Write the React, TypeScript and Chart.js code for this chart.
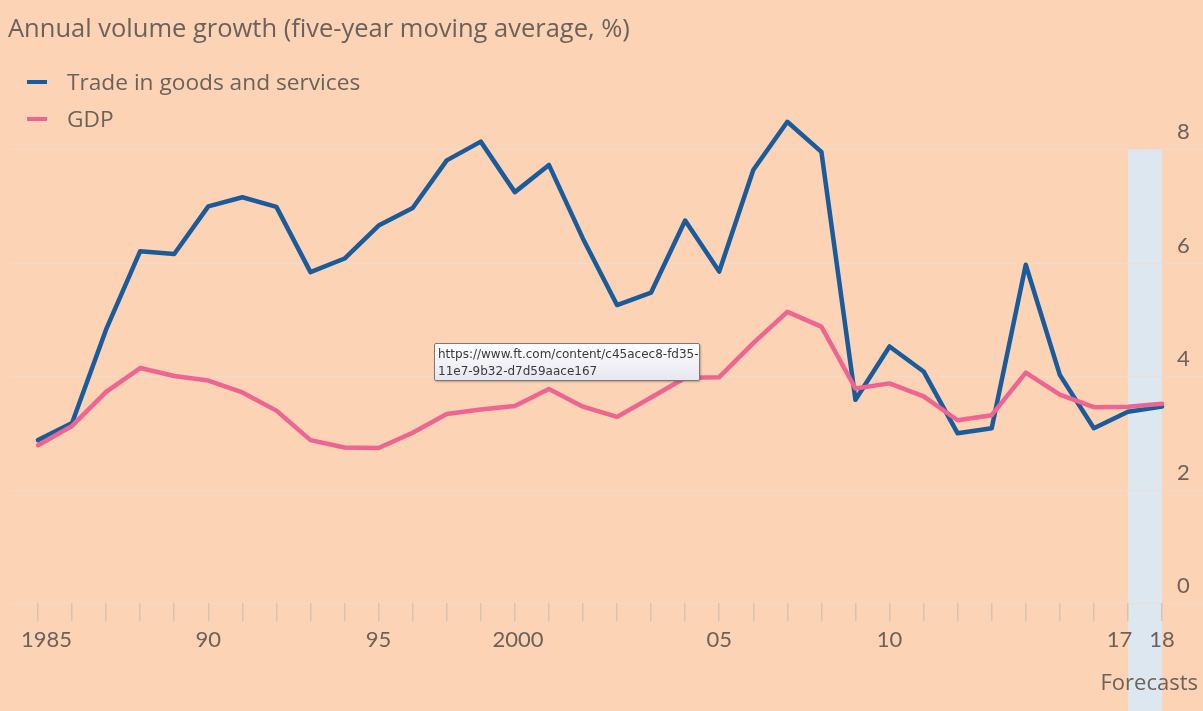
import React, { useEffect, useRef } from "react";
import { Chart, registerables } from "chart.js";

Chart.register(...registerables);

const years = [
  "1985", "1986", "1987", "1988", "1989", "1990", "1991", "1992", "1993", "1994",
  "1995", "1996", "1997", "1998", "1999", "2000", "2001", "2002", "2003", "2004",
  "2005", "2006", "2007", "2008", "2009", "2010", "2011", "2012", "2013", "2014",
  "2015", "2016", "2017", "2018",
];

const xTickLabels = [
  "1985", "", "", "", "", "90", "", "", "", "",
  "95", "", "", "", "", "2000", "", "", "", "",
  "05", "", "", "", "", "10", "", "", "", "",
  "", "", "17", "18",
];

const tradeValues = [
  2.87, 3.17, 4.82, 6.2, 6.15, 6.99, 7.15, 6.98, 5.83, 6.07,
  6.65, 6.96, 7.8, 8.13, 7.24, 7.72, 6.42, 5.25, 5.47, 6.74,
  5.84, 7.63, 8.48, 7.95, 3.58, 4.52, 4.08, 2.99, 3.08, 5.96,
  4.02, 3.08, 3.37, 3.46,
];

const gdpValues = [
  2.78, 3.12, 3.72, 4.14, 4.0, 3.92, 3.71, 3.39, 2.87, 2.74,
  2.73, 3.0, 3.33, 3.41, 3.47, 3.77, 3.46, 3.28, 3.62, 3.97,
  3.98, 4.58, 5.13, 4.87, 3.78, 3.87, 3.64, 3.22, 3.31, 4.06,
  3.67, 3.45, 3.46, 3.51,
];

const yTicks = [0, 2, 4, 6, 8];
const forecastStart = "2017";
const forecastEnd = "2018";

const seriesNames = ["Trade in goods and services", "GDP"];
const titleText = "Annual volume growth (five-year moving average, %)";
const tooltipLines = ["https://www.ft.com/content/c45acec8-fd35-", "11e7-9b32-d7d59aace167"];

const BG = "#fcd3b4";
const BLUE = "#1a5b9c";
const PINK = "#ee6592";
const TEXT = "#6b625c";
const FONT = "'Open Sans', Lato, sans-serif";
const TICK_FONT = "Lato, 'Open Sans', sans-serif";

const decorPlugin = {
  id: "ftDecor",
  beforeDraw(chart: any) {
    const { ctx, scales } = chart;
    const x = scales.x;
    const y = scales.y;
    ctx.save();
    // forecast band
    const bx0 = x.getPixelForValue(years.indexOf(forecastStart));
    const bx1 = x.getPixelForValue(years.indexOf(forecastEnd));
    const by0 = y.getPixelForValue(8);
    ctx.fillStyle = "#dce7ef";
    ctx.fillRect(bx0, by0, bx1 - bx0, chart.height - by0);
    // horizontal grid lines across the full width
    ctx.strokeStyle = "rgba(236, 222, 214, 0.6)";
    ctx.lineWidth = 1.5;
    yTicks.forEach((v) => {
      const py = Math.round(y.getPixelForValue(v)) + 0.5;
      ctx.beginPath();
      ctx.moveTo(10, py);
      ctx.lineTo(chart.width, py);
      ctx.stroke();
    });
    ctx.restore();
  },
};

function padLabel(label: string, index: number): string {
  if (!label) return "";
  if (index === 0) return "   " + label;
  if (label === "2000") return label + "           ";
  if (label === "17") return label + "   ";
  return label;
}

export default function App() {
  const canvasRef = useRef<HTMLCanvasElement | null>(null);

  useEffect(() => {
    document.body.style.margin = "0";
    const canvas = canvasRef.current;
    if (!canvas) return;
    const chart = new Chart(canvas, {
      type: "line",
      data: {
        labels: years,
        datasets: [
          {
            label: seriesNames[0],
            data: tradeValues,
            borderColor: BLUE,
            backgroundColor: BLUE,
            borderWidth: 4.5,
            pointRadius: 0,
            tension: 0,
            clip: false as any,
            borderJoinStyle: "round",
            borderCapStyle: "round",
            order: 1,
          },
          {
            label: seriesNames[1],
            data: gdpValues,
            borderColor: PINK,
            backgroundColor: PINK,
            borderWidth: 4.5,
            pointRadius: 0,
            tension: 0,
            clip: false as any,
            borderJoinStyle: "round",
            borderCapStyle: "round",
            order: 0,
          },
        ],
      },
      options: {
        animation: false,
        responsive: false,
        maintainAspectRatio: false,
        devicePixelRatio: 1,
        layout: { padding: { left: 38, top: 149, right: 0, bottom: 0 } },
        plugins: {
          legend: { display: false },
          title: { display: false },
          tooltip: { enabled: false },
        },
        events: [],
        scales: {
          x: {
            type: "category",
            offset: false,
            grid: {
              display: true,
              drawOnChartArea: false,
              drawTicks: true,
              tickLength: 18,
              color: "#d9c3b3",
              lineWidth: 1.5,
            },
            border: { display: false },
            ticks: {
              autoSkip: false,
              maxRotation: 0,
              minRotation: 0,
              padding: 6,
              color: TEXT,
              font: { family: TICK_FONT, size: 22 },
              callback: (_v: any, index: number) => padLabel(xTickLabels[index], index),
            },
            afterFit: (scale: any) => {
              scale.height = 108;
              scale.paddingLeft = 0;
              scale.paddingRight = 0;
            },
          },
          y: {
            type: "linear",
            position: "right",
            min: 0,
            max: 8,
            grid: { display: false, drawTicks: false },
            border: { display: false },
            afterBuildTicks: (scale: any) => {
              scale.ticks = yTicks.map((v) => ({ value: v }));
            },
            ticks: {
              padding: 15,
              labelOffset: -17,
              color: TEXT,
              font: { family: TICK_FONT, size: 22 },
              callback: (v: any) => String(v),
            },
            afterFit: (scale: any) => {
              scale.width = 41;
            },
          },
        },
      },
      plugins: [decorPlugin],
    });
    return () => chart.destroy();
  }, []);

  return (
    <div
      style={{
        position: "absolute",
        left: 0,
        top: 0,
        width: 1203,
        height: 711,
        background: BG,
        overflow: "hidden",
        fontFamily: FONT,
      }}
    >
      <canvas ref={canvasRef} width={1203} height={711} style={{ position: "absolute", left: 0, top: 0, width: 1203, height: 711 }} />
      <div style={{ position: "absolute", left: 8, top: 10, fontSize: 25.5, lineHeight: "34px", color: TEXT, whiteSpace: "nowrap" }}>
        {titleText}
      </div>
      {seriesNames.map((name, i) => (
        <div
          key={name}
          style={{ position: "absolute", left: 27, top: 68 + i * 37, height: 28, display: "flex", alignItems: "center", whiteSpace: "nowrap" }}
        >
          <span style={{ display: "inline-block", width: 20, height: 4, background: i === 0 ? BLUE : PINK, marginRight: 20 }} />
          <span style={{ fontSize: 22.7, color: TEXT, lineHeight: "28px" }}>{name}</span>
        </div>
      ))}
      <div style={{ position: "absolute", right: 5, top: 667, fontSize: 22, lineHeight: "28px", color: TEXT, whiteSpace: "nowrap" }}>
        Forecasts
      </div>
      <div
        style={{
          position: "absolute",
          left: 434,
          top: 343,
          width: 266,
          height: 38,
          border: "1px solid #7a7a7a",
          borderRadius: 2,
          background: "linear-gradient(#ffffff, #e6e7f0)",
          boxShadow: "1px 1px 2px rgba(0,0,0,0.25)",
          fontFamily: "'DejaVu Sans', sans-serif",
          fontSize: 12,
          lineHeight: "16.5px",
          color: "#3a3a3a",
          padding: "2px 3px",
          boxSizing: "border-box",
          whiteSpace: "nowrap",
        }}
      >
        {tooltipLines.map((l) => (
          <div key={l}>{l}</div>
        ))}
      </div>
    </div>
  );
}
